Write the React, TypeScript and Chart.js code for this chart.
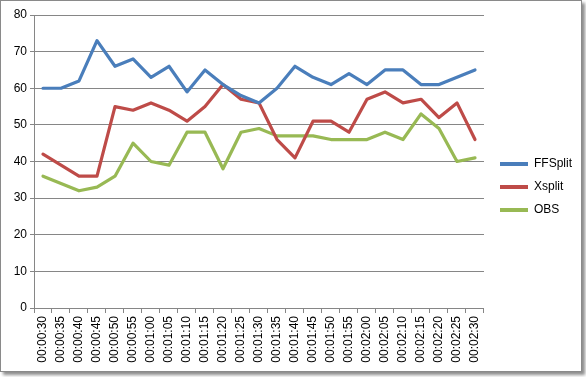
import { useEffect, useRef } from "react";
import { Chart, registerables } from "chart.js";
Chart.register(...registerables);

const categories = [
  "00:00:30", "00:00:35", "00:00:40", "00:00:45", "00:00:50", "00:00:55",
  "00:01:00", "00:01:05", "00:01:10", "00:01:15", "00:01:20", "00:01:25",
  "00:01:30", "00:01:35", "00:01:40", "00:01:45", "00:01:50", "00:01:55",
  "00:02:00", "00:02:05", "00:02:10", "00:02:15", "00:02:20", "00:02:25",
  "00:02:30",
];
const ffsplit = [60, 60, 62, 73, 66, 68, 63, 66, 59, 65, 61, 58, 56, 60, 66, 63, 61, 64, 61, 65, 65, 61, 61, 63, 65];
const xsplit = [42, 39, 36, 36, 55, 54, 56, 54, 51, 55, 61, 57, 56, 46, 41, 51, 51, 48, 57, 59, 56, 57, 52, 56, 46];
const obs = [36, 34, 32, 33, 36, 45, 40, 39, 48, 48, 38, 48, 49, 47, 47, 47, 46, 46, 46, 48, 46, 53, 49, 40, 41];
const seriesNames = ["FFSplit", "Xsplit", "OBS"];
const seriesColors = ["#4a7ebb", "#be4b48", "#98b954"];
const yMin = 0;
const yMax = 80;
const yStep = 10;

const gridColor = "#868686";
const font = { family: "'Liberation Sans', Arial, sans-serif", size: 12 };

const legendShift = {
  id: "legendShift",
  afterLayout(chart: any) {
    const lg = chart.legend;
    if (!lg) return;
    const dx = 489 - lg.left;
    lg.left += dx;
    lg.right += dx;
    lg.top -= 9;
    lg.bottom -= 9;
  },
};

export default function App() {
  const ref = useRef<HTMLCanvasElement>(null);
  useEffect(() => {
    document.body.style.margin = "0";
    const values = [ffsplit, xsplit, obs];
    const chart = new Chart(ref.current!, {
      type: "line",
      data: {
        labels: categories,
        datasets: values.map((v, i) => ({
          label: seriesNames[i],
          data: v,
          borderColor: seriesColors[i],
          backgroundColor: seriesColors[i],
          borderWidth: 3.2,
          pointRadius: 0,
          tension: 0,
          borderJoinStyle: "round" as const,
          borderCapStyle: "round" as const,
        })),
      },
      plugins: [legendShift],
      options: {
        animation: false,
        responsive: false,
        layout: { padding: { top: 15, left: 0, right: 9, bottom: 0 } },
        plugins: {
          tooltip: { enabled: false },
          legend: {
            position: "right",
            labels: {
              boxWidth: 28,
              boxHeight: 4,
              padding: 11,
              color: "#000",
              font,
              generateLabels: (c: any) =>
                c.data.datasets.map((d: any, i: number) => ({
                  text: d.label,
                  fillStyle: d.borderColor,
                  strokeStyle: d.borderColor,
                  lineWidth: 0,
                  hidden: false,
                  datasetIndex: i,
                  fontColor: "#000",
                })),
            },
          },
        },
        scales: {
          x: {
            offset: true,
            grid: {
              offset: true,
              drawOnChartArea: false,
              drawTicks: true,
              tickLength: 5,
              color: gridColor,
            },
            border: { color: gridColor },
            ticks: {
              autoSkip: false,
              minRotation: 90,
              maxRotation: 90,
              padding: 3,
              color: "#000",
              font,
            },
            afterFit: (s: any) => {
              s.height = 377 - 308;
            },
          },
          y: {
            min: yMin,
            max: yMax,
            ticks: { stepSize: yStep, padding: 3, color: "#000", font },
            grid: { color: gridColor, tickLength: 4 },
            border: { color: gridColor },
            afterFit: (s: any) => {
              s.width = 34;
            },
          },
        },
      },
    });
    return () => chart.destroy();
  }, []);
  return (
    <div style={{ position: "relative", width: 586, height: 377 }}>
      <div
        style={{
          position: "absolute",
          left: 0,
          top: 0,
          width: 580,
          height: 370,
          border: "1px solid #8a8a8a",
          boxShadow: "3px 3px 3px rgba(0,0,0,0.45)",
          background: "#fff",
        }}
      />
      <canvas ref={ref} width={586} height={377} style={{ position: "absolute", left: 0, top: 0 }} />
    </div>
  );
}
